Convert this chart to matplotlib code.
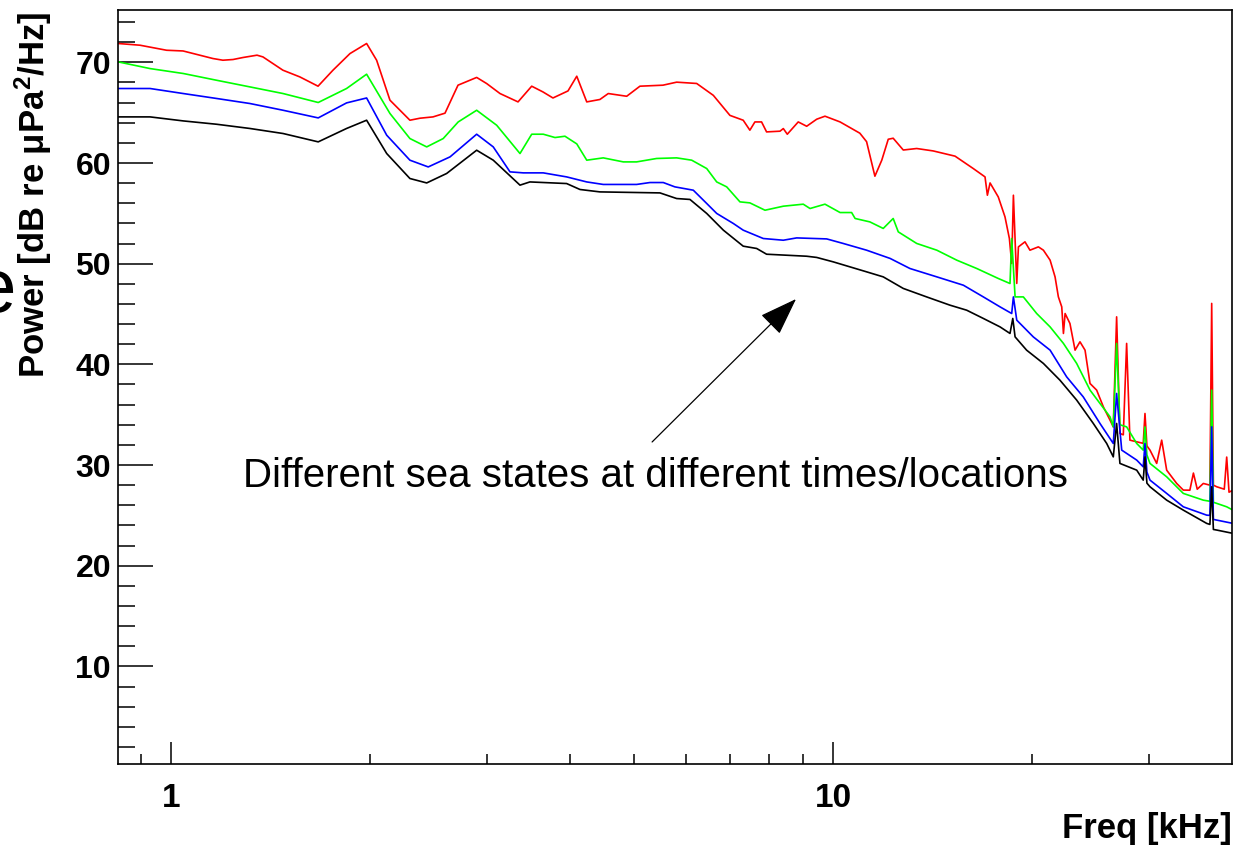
import numpy as np
import matplotlib
matplotlib.use("Agg")
import matplotlib.pyplot as plt
from matplotlib.ticker import FixedLocator, MultipleLocator, NullFormatter

plt.rcParams['font.family'] = ['Liberation Sans', 'DejaVu Sans']
plt.rcParams['mathtext.fontset'] = 'custom'
plt.rcParams['mathtext.rm'] = 'Liberation Sans:bold'
plt.rcParams['mathtext.it'] = 'Liberation Sans:bold'
plt.rcParams['mathtext.bf'] = 'Liberation Sans:bold'

# noise spectra, (freq kHz, power dB) per sea state
red = [(0.833, 71.87), (0.898, 71.70), (0.985, 71.20), (1.043, 71.13), (1.157, 70.38),
       (1.198, 70.21), (1.241, 70.28), (1.285, 70.48), (1.349, 70.71), (1.377, 70.54),
       (1.476, 69.22), (1.566, 68.55), (1.668, 67.63), (1.757, 69.22), (1.864, 70.87),
       (1.975, 71.87), (2.045, 70.21), (2.142, 66.24), (2.296, 64.25), (2.378, 64.45),
       (2.488, 64.58), (2.594, 64.95), (2.714, 67.73), (2.896, 68.50), (2.999, 67.89),
       (3.141, 66.90), (3.344, 66.07), (3.507, 67.63), (3.647, 67.06), (3.776, 66.46),
       (3.979, 67.16), (4.102, 68.62), (4.247, 66.07), (4.446, 66.31), (4.577, 66.90),
       (4.880, 66.63), (5.110, 67.63), (5.536, 67.73), (5.806, 68.03), (6.225, 67.90),
       (6.596, 66.72), (6.988, 64.73), (7.318, 64.25), (7.490, 63.26), (7.622, 64.08),
       (7.801, 64.08), (7.938, 63.09), (8.317, 63.16), (8.414, 63.42), (8.531, 62.86),
       (8.862, 64.08), (9.126, 63.65), (9.450, 64.35), (9.726, 64.65), (10.25, 64.08),
       (10.98, 62.96), (11.24, 62.12), (11.57, 58.69), (11.85, 60.28), (12.12, 62.36),
       (12.33, 62.46), (12.77, 61.29), (13.38, 61.44), (14.17, 61.20), (15.29, 60.68),
       (16.29, 59.45), (16.97, 58.62), (17.11, 56.80), (17.27, 58.02), (17.77, 56.63),
       (18.19, 54.65), (18.47, 52.50), (18.62, 50.02), (18.73, 56.80), (18.95, 48.04),
       (19.06, 51.67), (19.50, 52.17), (19.84, 51.34), (20.43, 51.67), (20.79, 51.34),
       (21.28, 50.35), (21.65, 48.69), (21.90, 46.71), (22.16, 45.71), (22.29, 43.07),
       (22.42, 45.05), (22.80, 44.06), (23.21, 41.41), (23.61, 42.24), (24.03, 41.41),
       (24.45, 38.10), (25.02, 37.44), (25.61, 35.78), (26.21, 34.46), (26.51, 33.79),
       (26.82, 44.72), (27.13, 33.14), (27.45, 33.00), (27.77, 42.08), (28.09, 32.47),
       (29.42, 32.15), (29.60, 35.12), (29.80, 31.90), (30.12, 31.48), (30.83, 30.16),
       (31.37, 32.47), (31.92, 29.49), (33.05, 28.17), (33.82, 27.51), (34.60, 27.50),
       (35.03, 29.20), (35.50, 27.60), (36.26, 28.17), (37.10, 28.00), (37.33, 46.05),
       (37.55, 28.00), (37.99, 27.84), (39.00, 27.60), (39.33, 30.79), (39.65, 27.30),
       (40.20, 27.51)]

green = [(0.833, 70.04), (0.930, 69.38), (1.044, 68.89), (1.172, 68.22), (1.316, 67.56),
         (1.477, 66.90), (1.669, 66.01), (1.842, 67.40), (1.975, 68.82), (2.142, 64.92),
         (2.296, 62.43), (2.434, 61.60), (2.578, 62.43), (2.716, 64.08), (2.896, 65.24),
         (3.105, 63.75), (3.367, 60.94), (3.507, 62.86), (3.651, 62.86), (3.803, 62.53),
         (3.937, 62.66), (4.102, 61.90), (4.247, 60.28), (4.498, 60.51), (4.823, 60.11),
         (5.051, 60.11), (5.416, 60.45), (5.806, 60.51), (6.118, 60.28), (6.446, 59.45),
         (6.674, 58.12), (6.910, 57.63), (7.236, 56.14), (7.490, 56.04), (7.895, 55.31),
         (8.414, 55.71), (9.018, 55.91), (9.233, 55.48), (9.726, 55.91), (10.25, 55.08),
         (10.67, 55.08), (10.80, 54.49), (11.37, 54.15), (11.91, 53.50), (12.33, 54.49),
         (12.55, 53.16), (13.38, 52.01), (14.35, 51.34), (15.38, 50.35), (16.49, 49.52),
         (17.77, 48.53), (18.51, 48.03), (18.62, 52.50), (18.84, 46.70), (19.39, 46.70),
         (20.31, 45.05), (21.28, 43.72), (22.29, 42.08), (23.34, 40.09), (24.45, 37.44),
         (25.31, 36.12), (26.21, 34.79), (26.51, 33.79), (26.82, 42.08), (27.13, 34.00),
         (27.77, 33.79), (28.76, 32.14), (29.42, 31.48), (29.60, 33.79), (29.80, 31.00),
         (30.12, 30.16), (31.92, 28.83), (33.82, 27.18), (36.26, 26.51), (37.10, 26.40),
         (37.33, 37.44), (37.55, 26.30), (37.99, 26.19), (39.33, 25.85), (40.20, 25.52)]

blue = [(0.833, 67.40), (0.930, 67.40), (1.044, 66.90), (1.172, 66.41), (1.316, 65.91),
        (1.477, 65.24), (1.669, 64.48), (1.842, 65.97), (1.975, 66.46), (2.118, 62.76),
        (2.296, 60.28), (2.447, 59.61), (2.640, 60.61), (2.896, 62.86), (3.068, 61.60),
        (3.252, 59.12), (3.406, 59.02), (3.651, 59.02), (3.960, 58.62), (4.247, 58.12),
        (4.498, 57.87), (5.051, 57.87), (5.291, 58.06), (5.542, 58.06), (5.770, 57.63),
        (6.152, 57.30), (6.446, 55.98), (6.674, 54.99), (7.072, 53.99), (7.318, 53.33),
        (7.848, 52.50), (8.414, 52.33), (8.813, 52.56), (9.784, 52.46), (10.36, 52.01),
        (11.24, 51.34), (12.20, 50.52), (13.07, 49.52), (14.35, 48.69), (15.74, 47.86),
        (16.87, 46.70), (17.88, 45.71), (18.62, 45.05), (18.73, 46.70), (18.95, 44.39),
        (20.07, 42.73), (21.28, 41.41), (22.54, 38.76), (23.88, 36.77), (25.31, 34.13),
        (26.51, 32.14), (26.82, 37.11), (27.30, 31.48), (28.76, 30.49), (29.42, 29.82),
        (29.60, 32.14), (29.80, 29.30), (30.12, 28.50), (31.92, 27.18), (33.82, 25.85),
        (36.69, 25.02), (37.10, 25.00), (37.33, 33.79), (37.55, 24.60), (37.99, 24.53),
        (40.20, 24.20)]

black = [(0.833, 64.58), (0.930, 64.58), (1.044, 64.18), (1.172, 63.85), (1.316, 63.43),
         (1.477, 62.93), (1.669, 62.10), (1.842, 63.43), (1.975, 64.25), (2.118, 60.94),
         (2.296, 58.46), (2.434, 58.02), (2.609, 58.96), (2.896, 61.27), (3.068, 60.28),
         (3.367, 57.80), (3.485, 58.12), (3.960, 57.96), (4.148, 57.37), (4.446, 57.13),
         (5.479, 57.03), (5.806, 56.47), (6.081, 56.38), (6.446, 54.99), (6.830, 53.33),
         (7.318, 51.74), (7.669, 51.51), (7.938, 50.94), (9.126, 50.74), (9.450, 50.62),
         (10.01, 50.18), (11.24, 49.19), (11.91, 48.69), (12.77, 47.54), (13.85, 46.70),
         (15.02, 45.88), (15.92, 45.38), (16.87, 44.56), (17.88, 43.72), (18.51, 43.07),
         (18.69, 44.56), (18.84, 42.73), (19.61, 41.41), (20.79, 40.09), (22.02, 38.43),
         (23.34, 36.45), (24.73, 34.13), (25.91, 32.14), (26.51, 30.81), (26.82, 34.13),
         (27.13, 30.16), (28.76, 29.49), (29.42, 28.50), (29.60, 30.81), (29.80, 28.20),
         (30.12, 27.84), (31.92, 26.51), (33.82, 25.52), (36.69, 24.20), (37.10, 24.10),
         (37.33, 27.84), (37.55, 23.60), (37.99, 23.54), (40.20, 23.21)]

spectra = [(red, '#ff0000'), (green, '#00ff00'), (blue, '#0000ff'), (black, '#000000')]

fig = plt.figure(figsize=(12.44, 8.46), dpi=100)
ax = fig.add_axes([0.0949, 0.0969, 0.8955, 0.8913])

for data, col in spectra:
    f, db = np.array(data).T
    ax.plot(f, db, color=col, lw=1.2)

ax.set_xscale('log')
ax.set_xlim(0.832, 40.07)
ax.set_ylim(0.3, 75.2)

ax.xaxis.set_major_locator(FixedLocator([1, 10]))
ax.xaxis.set_minor_locator(FixedLocator([0.9, 2, 3, 4, 5, 6, 7, 8, 9, 20, 30]))
ax.xaxis.set_major_formatter(plt.FixedFormatter(['1', '10']))
ax.xaxis.set_minor_formatter(NullFormatter())
ax.yaxis.set_major_locator(MultipleLocator(10))
ax.yaxis.set_minor_locator(MultipleLocator(2))

ax.tick_params(axis='y', which='major', direction='in', length=25, width=1.1,
               labelsize=23, pad=5, right=False)
ax.tick_params(axis='y', which='minor', direction='in', length=12, width=1.1, right=False)
ax.tick_params(axis='x', which='major', direction='in', length=16, width=1.1,
               labelsize=24, pad=14, top=False)
ax.tick_params(axis='x', which='minor', direction='in', length=7.5, width=1.1, top=False)
for lab in ax.get_xticklabels() + ax.get_yticklabels():
    lab.set_fontweight('bold')

for sp in ax.spines.values():
    sp.set_linewidth(1.2)

ax.annotate('', xy=(0.6086, 0.6167), xycoords='axes fraction',
            xytext=(0.4794, 0.4271), textcoords='axes fraction',
            arrowprops=dict(arrowstyle='-|>,head_length=2.4,head_width=0.85',
                            mutation_scale=10, lw=0.9, color='black',
                            shrinkA=0, shrinkB=0))
ax.text(0.112, 0.367, 'Different sea states at different times/locations',
        transform=ax.transAxes, fontsize=29, ha='left', va='baseline')

fig.text(45 / 1244, 1 - 12 / 846, 'Power [dB re μPa$^{2}$/Hz]', rotation=90,
         rotation_mode='anchor', ha='right', va='baseline', fontsize=25, fontweight='bold')
fig.text(1232 / 1244, 1 - 838 / 846, 'Freq [kHz]', ha='right', va='baseline',
         fontsize=25, fontweight='bold')
# leftover glyph of a neighbouring label, clipped by the figure edge
fig.text(16 / 1244, 1 - 312 / 846, 'e', ha='right', va='baseline', fontsize=55)

fig.savefig('out.png', dpi=100)
